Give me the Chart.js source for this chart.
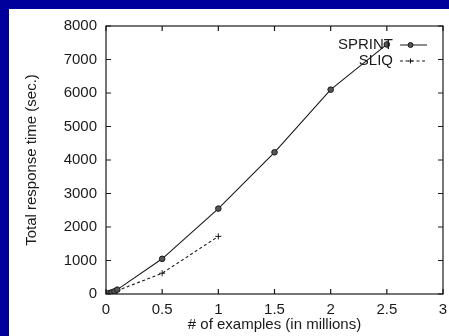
<!DOCTYPE html>
<html><head><meta charset="utf-8">
<script src="https://cdn.jsdelivr.net/npm/chart.js@4/dist/chart.umd.min.js"></script>
<style>
html,body{margin:0;padding:0;background:#00009c;width:449px;height:336px;overflow:hidden}
#wrap{position:absolute;left:9px;top:9px;width:440px;height:327px;background:#fff}
canvas{display:block}
</style></head>
<body><div id="wrap"><canvas id="c" width="440" height="327"></canvas></div>
<script>
const sprintX = [0, 0.025, 0.05, 0.075, 0.1, 0.5, 1, 1.5, 2, 2.5];
const sprintY = [0, 25, 50, 80, 130, 1050, 2550, 4230, 6100, 7450];
const sliqX = [0, 0.025, 0.05, 0.075, 0.1, 0.5, 1];
const sliqY = [0, 20, 40, 65, 100, 620, 1720];
const xTicks = [0, 0.5, 1, 1.5, 2, 2.5, 3];
const yTicks = [0, 1000, 2000, 3000, 4000, 5000, 6000, 7000, 8000];
const seriesNames = ['SPRINT', 'SLIQ'];
const xTitle = '# of examples (in millions)';
const yTitle = 'Total response time (sec.)';

const FONT = 'Liberation Sans, Arial, sans-serif';
const INK = '#1a1a1a';

const framePlugin = {
  id: 'frame',
  afterDatasetsDraw(chart) {
    const {ctx, chartArea: a, scales} = chart;
    ctx.save();
    ctx.strokeStyle = INK;
    ctx.lineWidth = 1.2;
    ctx.strokeRect(a.left, a.top, a.right - a.left, a.bottom - a.top);
    const tl = 5;
    xTicks.forEach(v => {
      const px = scales.x.getPixelForValue(v);
      ctx.beginPath();
      ctx.moveTo(px, a.bottom); ctx.lineTo(px, a.bottom - tl);
      ctx.moveTo(px, a.top); ctx.lineTo(px, a.top + tl);
      ctx.stroke();
    });
    yTicks.forEach(v => {
      const py = scales.y.getPixelForValue(v);
      ctx.beginPath();
      ctx.moveTo(a.left, py); ctx.lineTo(a.left + tl, py);
      ctx.moveTo(a.right, py); ctx.lineTo(a.right - tl, py);
      ctx.stroke();
    });
    // legend (gnuplot style: text then sample)
    ctx.font = '15px ' + FONT;
    ctx.textAlign = 'right';
    ctx.textBaseline = 'middle';
    const textRight = a.right - 50;
    const s0 = a.right - 43, s1 = a.right - 16;
    chart.data.datasets.forEach((ds, i) => {
      const y = a.top + 19 + i * 16;
      ctx.fillStyle = INK;
      ctx.fillText(ds.label, textRight, y);
      ctx.beginPath();
      ctx.setLineDash(ds.borderDash || []);
      ctx.lineWidth = 1;
      ctx.strokeStyle = INK;
      ctx.moveTo(s0, y); ctx.lineTo(s1, y);
      ctx.stroke();
      ctx.setLineDash([]);
      const mx = (s0 + s1) / 2 - 3;
      if (ds.pointStyle === 'circle') {
        ctx.beginPath(); ctx.arc(mx, y, 2.5, 0, Math.PI * 2); ctx.fillStyle = '#555'; ctx.fill(); ctx.stroke();
      } else {
        ctx.beginPath(); ctx.moveTo(mx - 2.5, y); ctx.lineTo(mx + 2.5, y); ctx.moveTo(mx, y - 2.5); ctx.lineTo(mx, y + 2.5); ctx.stroke();
      }
    });
    ctx.restore();
  }
};

new Chart(document.getElementById('c'), {
  type: 'scatter',
  data: {
    datasets: [
      { label: seriesNames[0], data: sprintX.map((x, i) => ({x, y: sprintY[i]})), showLine: true,
        borderColor: INK, borderWidth: 1.1, pointStyle: 'circle', pointRadius: 2.8,
        pointBackgroundColor: '#555', pointBorderColor: INK, pointBorderWidth: 1 },
      { label: seriesNames[1], data: sliqX.map((x, i) => ({x, y: sliqY[i]})), showLine: true,
        borderColor: INK, borderWidth: 1.1, borderDash: [3, 2.5], pointStyle: 'cross', pointRadius: 3,
        pointBorderColor: INK, pointBorderWidth: 1 }
    ]
  },
  options: {
    responsive: false, animation: false,
    layout: { padding: { top: 17, right: 6, left: 0, bottom: 0 } },
    plugins: { legend: { display: false }, tooltip: { enabled: false } },
    scales: {
      x: {
        type: 'linear', min: 0, max: 3,
        afterBuildTicks: s => { s.ticks = xTicks.map(v => ({value: v})); },
        afterFit: s => { s.height = 42; s.paddingLeft = 0; s.paddingRight = 0; },
        grid: { display: false, drawTicks: false }, border: { display: false },
        ticks: { color: INK, font: { family: FONT, size: 15 }, padding: 7, maxRotation: 0, autoSkip: false, callback: v => String(v) },
        title: { display: true, text: xTitle, color: INK, font: { family: FONT, size: 15 }, padding: { top: 0, bottom: 2 } }
      },
      y: {
        type: 'linear', min: 0, max: 8000,
        afterBuildTicks: s => { s.ticks = yTicks.map(v => ({value: v})); },
        afterFit: s => { s.width = 97; s.paddingTop = 0; s.paddingBottom = 0; },
        grid: { display: false, drawTicks: false }, border: { display: false },
        ticks: { color: INK, font: { family: FONT, size: 15 }, padding: 9, autoSkip: false, callback: v => String(v) },
        title: { display: true, text: yTitle, color: INK, font: { family: FONT, size: 15 }, padding: { top: 14, bottom: 0 } }
      }
    }
  },
  plugins: [framePlugin]
});
</script>
</body></html>
